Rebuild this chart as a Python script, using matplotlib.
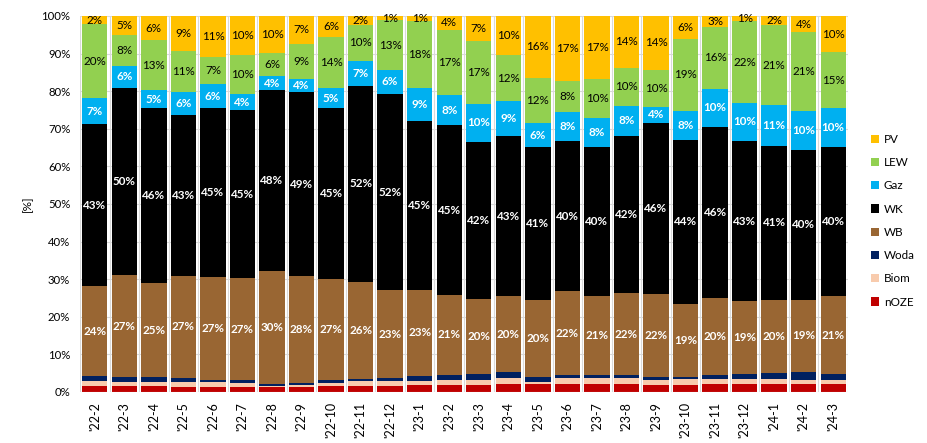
import numpy as np
import matplotlib
matplotlib.use("Agg")
import matplotlib.pyplot as plt
from matplotlib.patches import Patch

plt.rcParams['font.family'] = ['Lato', 'DejaVu Sans']

# miesiace
months = ["'22-2", "'22-3", "'22-4", "'22-5", "'22-6", "'22-7", "'22-8", "'22-9",
          "'22-10", "'22-11", "'22-12", "'23-1", "'23-2", "'23-3", "'23-4", "'23-5",
          "'23-6", "'23-7", "'23-8", "'23-9", "'23-10", "'23-11", "'23-12", "'24-1",
          "'24-2", "'24-3"]

# udzialy [%] - od dolu
nOZE = [1.6, 1.6, 1.5, 1.4, 1.3, 1.3, 1.3, 1.4, 1.6, 1.6, 1.6, 1.8, 1.8, 1.8,
        2.0, 2.0, 2.0, 2.0, 2.0, 1.9, 1.9, 2.1, 2.1, 2.2, 2.2, 2.1]
Biom = [1.2, 1.0, 1.2, 1.3, 1.3, 1.2, 0.4, 0.45, 0.9, 1.25, 1.25, 1.2, 1.3, 1.5,
        1.6, 0.7, 1.6, 1.6, 1.6, 1.3, 1.5, 1.25, 1.3, 1.3, 1.1, 1.0]
Woda = [1.4, 1.3, 1.25, 1.0, 0.7, 0.6, 0.45, 0.5, 0.7, 0.5, 0.8, 1.3, 1.4, 1.5,
        1.7, 1.4, 0.9, 0.9, 0.9, 0.7, 0.7, 1.2, 1.3, 1.5, 1.9, 1.7]
WB = [24.0, 27.2, 25.05, 27.2, 27.4, 27.2, 30.05, 28.4, 26.8, 25.85, 23.4, 22.9, 21.4, 19.9,
      20.2, 20.3, 22.3, 21.0, 21.7, 22.1, 19.4, 20.35, 19.4, 19.6, 19.4, 20.7]
WK = [43.0, 49.75, 46.4, 42.7, 44.9, 44.6, 48.0, 49.0, 45.4, 52.3, 52.2, 44.9, 45.0, 41.9,
      42.6, 40.7, 39.9, 39.7, 42.0, 45.6, 43.6, 45.6, 42.7, 40.7, 39.8, 39.7]
Gaz = [6.9, 5.9, 4.8, 6.1, 6.2, 4.4, 3.8, 3.6, 5.4, 6.6, 6.4, 8.8, 8.0, 9.9,
       9.2, 6.4, 7.7, 7.8, 7.8, 4.2, 7.7, 10.2, 10.1, 10.9, 10.3, 10.2]
LEW = [19.7, 8.3, 13.4, 11.0, 7.3, 10.3, 6.1, 9.3, 13.6, 9.6, 13.2, 17.7, 17.4, 16.8,
       12.4, 12.1, 8.3, 10.2, 10.3, 9.9, 19.2, 16.4, 21.7, 21.4, 21.0, 15.0]
PV = [2.2, 4.95, 6.4, 9.3, 10.9, 10.4, 9.9, 7.35, 5.6, 2.3, 1.15, 1.4, 3.7, 6.7,
      10.3, 16.4, 17.3, 16.8, 13.7, 14.3, 6.0, 2.9, 1.4, 2.4, 4.3, 9.6]

series = [
    ('nOZE', nOZE, '#C00000', None),
    ('Biom', Biom, '#F8CBAD', None),
    ('Woda', Woda, '#002060', None),
    ('WB', WB, '#996633', 'white'),
    ('WK', WK, '#000000', 'white'),
    ('Gaz', Gaz, '#00B0F0', 'white'),
    ('LEW', LEW, '#92D050', 'black'),
    ('PV', PV, '#FFC000', 'black'),
]

data = np.array([s[1] for s in series], dtype=float)
data = data / data.sum(axis=0) * 100  # wykres 100%

fig = plt.figure(figsize=(9.27, 4.43), dpi=100)
ax = fig.add_axes([80/927, 51/443, 768/927, 376/443])

x = np.arange(len(months))
for v in np.arange(10, 101, 10):
    ax.axhline(v, color='#d9d9d9', lw=0.8, zorder=0)
for b in np.arange(-0.5, len(months), 1.0):
    ax.plot([b, b], [0, 100], color='#d9d9d9', lw=0.8, zorder=0)

bottom = np.zeros(len(months))
handles = []
for (name, _, color, lab_col), vals in zip(series, data):
    ax.bar(x, vals, bottom=bottom, width=0.86, color=color, edgecolor='none', zorder=2)
    if lab_col is not None:
        bold = lab_col == 'white'
        for i, v in enumerate(vals):
            ax.text(x[i], bottom[i] + v / 2, f"{v:.0f}%", ha='center', va='center',
                    fontsize=8.4, color=lab_col, fontweight='bold' if bold else 'normal',
                    zorder=3)
    bottom += vals
    handles.append(Patch(facecolor=color, label=name))

ax.plot([-0.5, len(months) - 0.5], [0, 0], color='#d9d9d9', lw=0.8, zorder=4)

ax.set_xlim(-0.5, len(months) - 0.5)
ax.set_ylim(0, 100)
ax.set_yticks(np.arange(0, 101, 10))
ax.set_yticklabels([f"{v}%" for v in range(0, 101, 10)], fontsize=8.2)
ax.set_xticks(x)
ax.set_xticklabels(months, rotation=90, fontsize=9)
ax.tick_params(length=0, pad=7)
for sp in ax.spines.values():
    sp.set_visible(False)
ax.set_ylabel('[%]', fontsize=8.5, labelpad=6)

fig.legend(handles=handles[::-1], loc='upper left', bbox_to_anchor=(865/927, 1 - 128/443),
           frameon=False, fontsize=8.4, handlelength=0.7, handleheight=0.7,
           handletextpad=0.4, labelspacing=1.05, borderpad=0)

fig.savefig('out.png', dpi=100)
